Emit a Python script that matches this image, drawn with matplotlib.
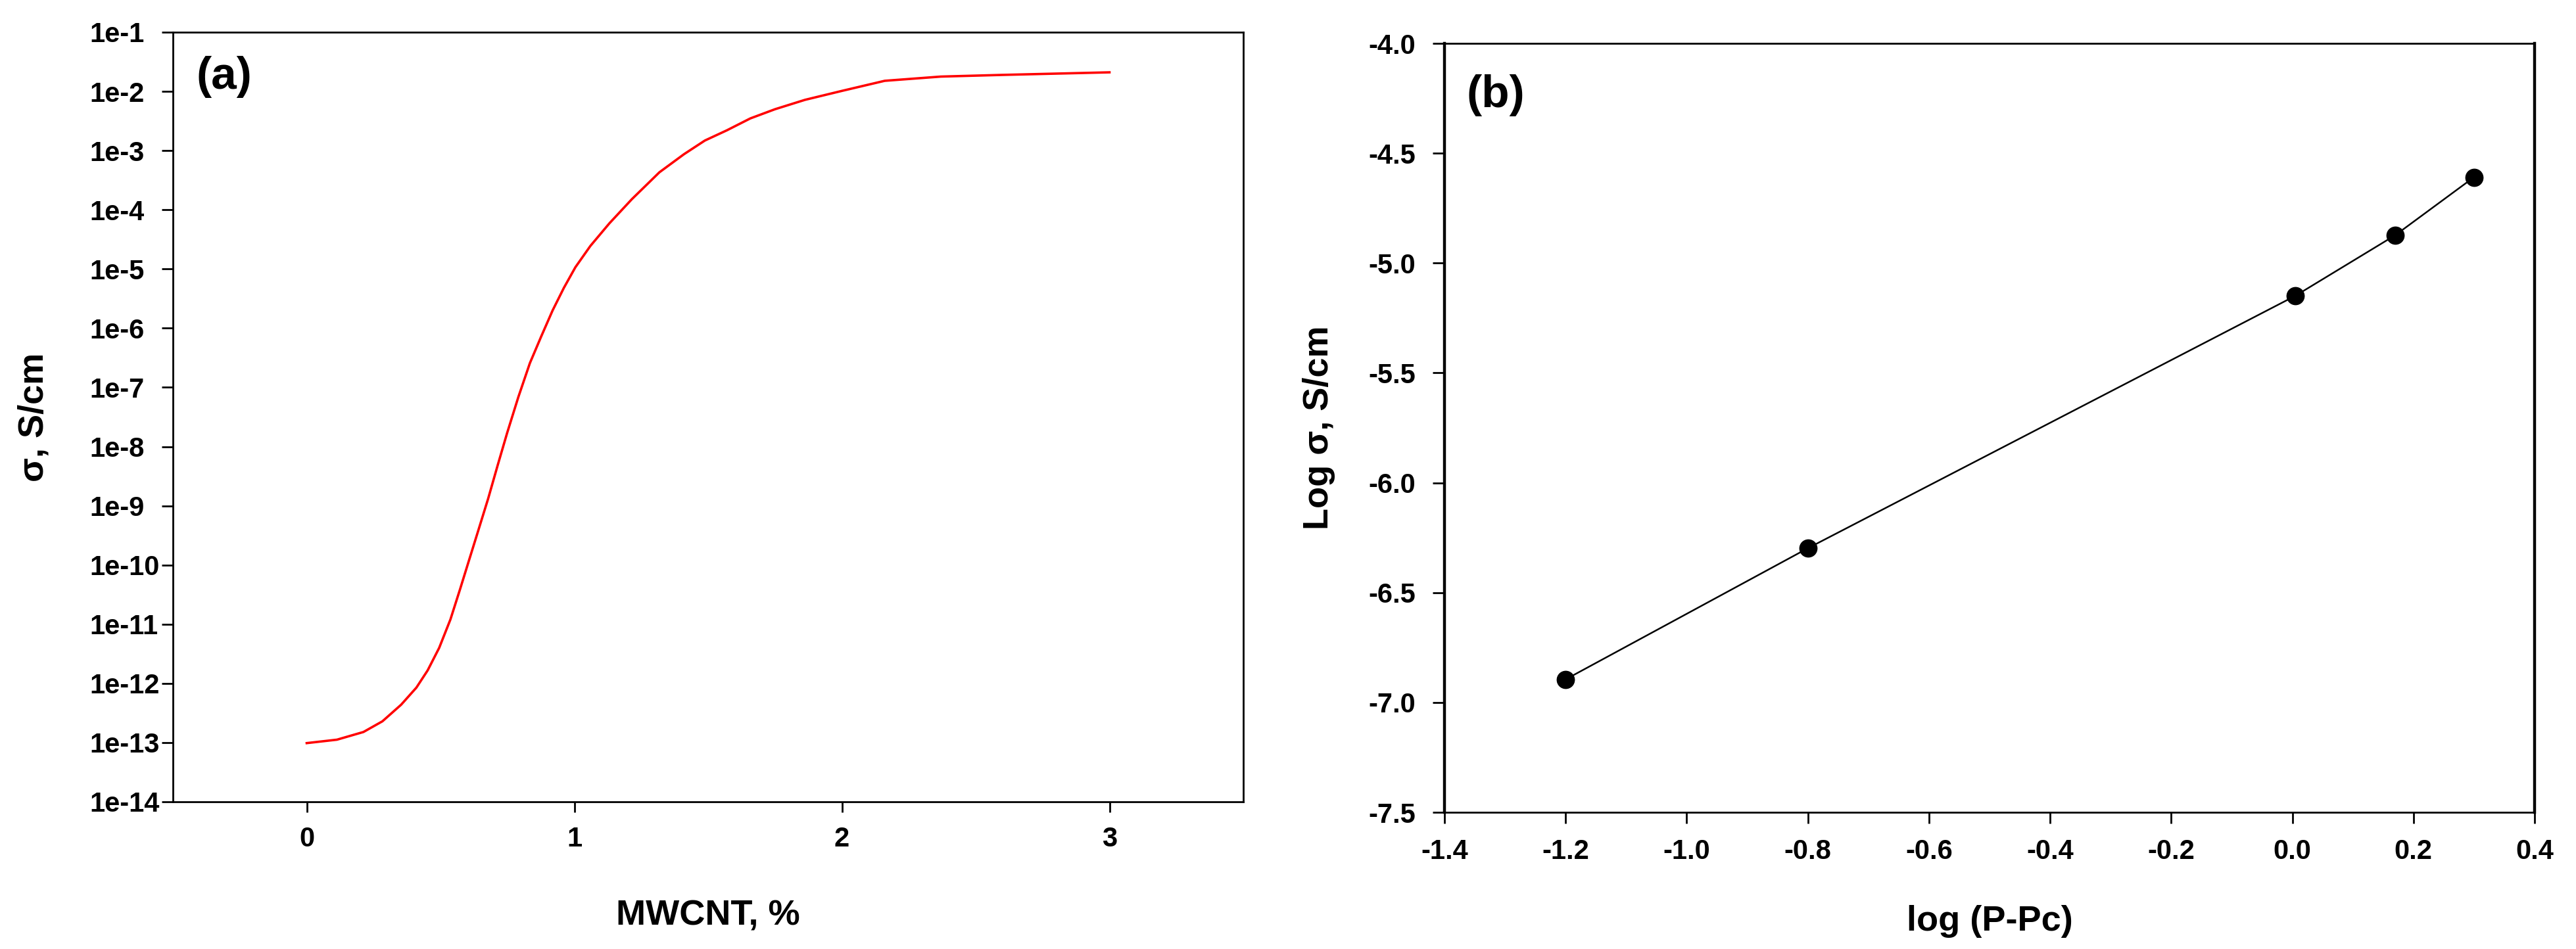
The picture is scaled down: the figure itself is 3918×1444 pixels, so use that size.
import matplotlib
matplotlib.use("Agg")
import matplotlib.pyplot as plt

plt.rcParams['font.family'] = ['Liberation Sans', 'DejaVu Sans']
plt.rcParams['axes.unicode_minus'] = False

# ---- Panel (a): conductivity vs MWCNT content ----
mwcnt = [0.0, 0.113, 0.212, 0.283, 0.353, 0.41, 0.452, 0.495, 0.537, 0.573,
         0.608, 0.643, 0.678, 0.714, 0.749, 0.791, 0.834, 0.876, 0.919, 0.961,
         1.004, 1.06, 1.131, 1.215, 1.318, 1.41, 1.488, 1.57, 1.658, 1.75,
         1.862, 2.0, 2.16, 2.37, 2.6, 3.0]
sigma = [9.8e-14, 1.12e-13, 1.51e-13, 2.29e-13, 4.37e-13, 8.5e-13, 1.66e-12,
         3.98e-12, 1.2e-11, 3.89e-11, 1.26e-10, 4.07e-10, 1.32e-9, 4.9e-9,
         1.7e-8, 6.9e-8, 2.57e-7, 7.2e-7, 2.0e-6, 4.8e-6, 1.07e-5, 2.45e-5,
         5.9e-5, 1.51e-4, 4.3e-4, 8.7e-4, 1.48e-3, 2.2e-3, 3.5e-3, 5.0e-3,
         7.2e-3, 1.02e-2, 1.51e-2, 1.78e-2, 1.9e-2, 2.1e-2]
a_xticks = [0, 1, 2, 3]
a_yticks = [10.0 ** (-k) for k in range(1, 15)]
a_yticklabels = ["1e-%d" % k for k in range(1, 15)]

# ---- Panel (b): log sigma vs log(P-Pc) ----
log_p_pc = [-1.2, -0.8, 0.005, 0.17, 0.3]
log_sigma = [-6.895, -6.298, -5.149, -4.873, -4.609]
b_xticks = [-1.4, -1.2, -1.0, -0.8, -0.6, -0.4, -0.2, 0.0, 0.2, 0.4]
b_xticklabels = ["-1.4", "-1.2", "-1.0", "-0.8", "-0.6", "-0.4", "-0.2", "0.0", "0.2", "0.4"]
b_yticks = [-4.0, -4.5, -5.0, -5.5, -6.0, -6.5, -7.0, -7.5]
b_yticklabels = ["-4.0", "-4.5", "-5.0", "-5.5", "-6.0", "-6.5", "-7.0", "-7.5"]

W, H = 3918, 1444
fig = plt.figure(figsize=(W / 100, H / 100), dpi=100)

ax1 = fig.add_axes([263 / W, 1 - 1220 / H, (1891 - 263) / W, (1220 - 49) / H])
ax2 = fig.add_axes([2197 / W, 1 - 1236 / H, (3855 - 2197) / W, (1236 - 66) / H])

tick_fs = 30
lab_fs = 39

# Panel (a)
ax1.plot(mwcnt, sigma, color='#ff0000', lw=2.6)
ax1.set_yscale('log')
ax1.set_xlim(-0.5, 3.5)
ax1.set_ylim(1e-14, 1e-1)
ax1.set_xticks(a_xticks)
ax1.set_xticklabels([str(v) for v in a_xticks])
ax1.set_yticks(a_yticks)
ax1.set_yticklabels(a_yticklabels)
ax1.yaxis.set_minor_locator(matplotlib.ticker.NullLocator())
ax1.tick_params(axis='y', which='major', direction='out', length=12, width=2,
                pad=79, labelsize=tick_fs)
ax1.tick_params(axis='x', which='major', direction='out', length=11.5, width=2,
                pad=15, labelsize=tick_fs)
for lab in ax1.get_yticklabels():
    lab.set_horizontalalignment('left')
    lab.set_fontweight('bold')
for lab in ax1.get_xticklabels():
    lab.set_fontweight('bold')
for sp in ax1.spines.values():
    sp.set_linewidth(2)
ax1.set_xlabel("MWCNT, %", fontsize=lab_fs, fontweight='bold', va='center')
ax1.xaxis.set_label_coords(0.5, (1220 - 1393) / 1171)
ax1.set_ylabel("σ, S/cm", fontsize=lab_fs, fontweight='bold', va='center')
ax1.yaxis.set_label_coords((51 - 263) / 1628, 0.5)
ax1.text(0.022, 0.942, "(a)", transform=ax1.transAxes, fontsize=50,
         fontweight='bold', ha='left', va='center')

# Panel (b)
ax2.plot(log_p_pc, log_sigma, color='black', lw=1.8, marker='o',
         markersize=19, markerfacecolor='black', markeredgecolor='black')
ax2.set_xlim(-1.4, 0.4)
ax2.set_ylim(-7.5, -4.0)
ax2.set_xticks(b_xticks)
ax2.set_xticklabels(b_xticklabels)
ax2.set_yticks(b_yticks)
ax2.set_yticklabels(b_yticklabels)
ax2.tick_params(axis='y', direction='out', length=13, width=2, pad=18.7,
                labelsize=tick_fs)
ax2.tick_params(axis='x', direction='out', length=12.2, width=2, pad=16.5,
                labelsize=tick_fs)
for lab in ax2.get_yticklabels() + ax2.get_xticklabels():
    lab.set_fontweight('bold')
for name, sp in ax2.spines.items():
    sp.set_linewidth(3.2 if name in ('left', 'right') else 2)
ax2.set_xlabel("log (P-Pc)", fontsize=lab_fs, fontweight='bold', va='center')
ax2.xaxis.set_label_coords(0.5, (1236 - 1402) / 1170)
ax2.set_ylabel("Log σ, S/cm", fontsize=lab_fs, fontweight='bold', va='center')
ax2.yaxis.set_label_coords((2006 - 2197) / 1658, 0.5)
ax2.text(0.0205, 0.9325, "(b)", transform=ax2.transAxes, fontsize=50,
         fontweight='bold', ha='left', va='center')

fig.savefig("out.png", dpi=100, facecolor='white')
